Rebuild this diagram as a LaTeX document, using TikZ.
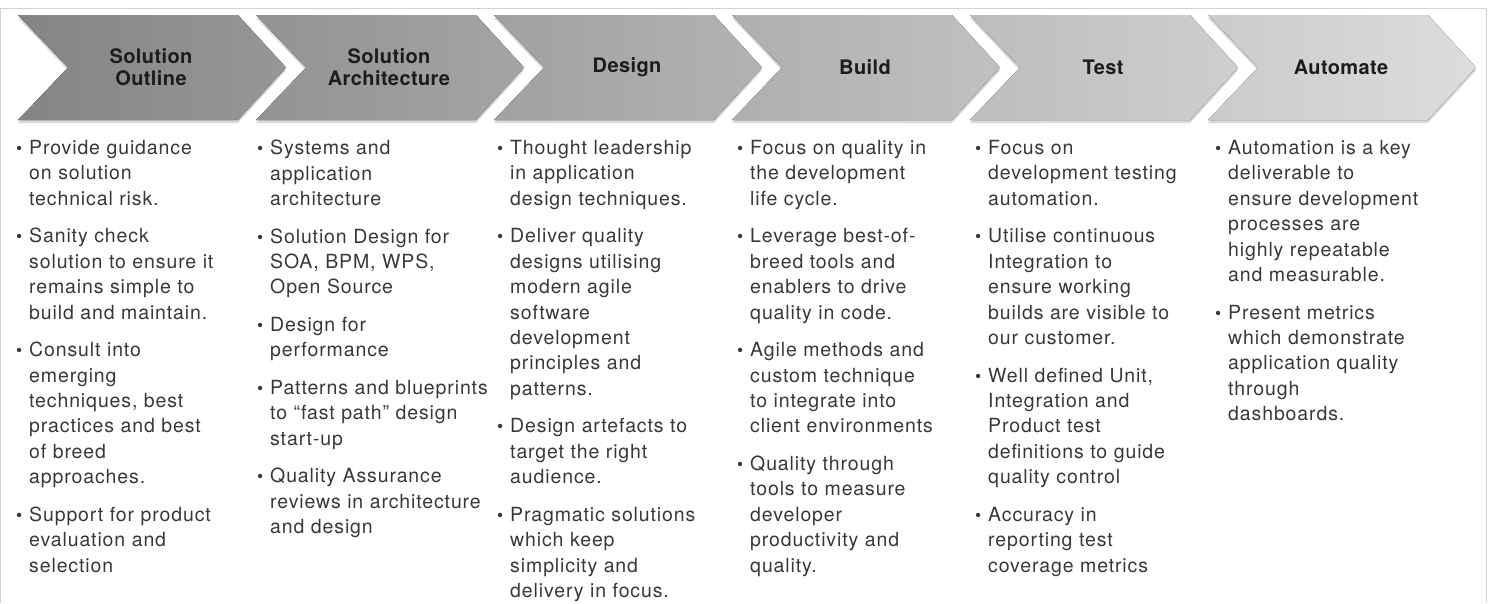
\documentclass[tikz,border=0pt]{standalone}
\usepackage{fontspec}
\setmainfont{TeX Gyre Heros}
\newfontfamily\bodyfont{TeX Gyre Heros}[LetterSpace=4.5]
\newfontfamily\headfont{TeX Gyre Heros}[LetterSpace=2]
\usetikzlibrary{shadows}
\definecolor{bodytext}{HTML}{383838}
\definecolor{headtext}{HTML}{1C1C1C}
\definecolor{framegrey}{HTML}{D2D2D2}
\newcommand{\pitem}[1]{\hangindent=13pt\hangafter=1\noindent\makebox[13pt][l]{\fontsize{17.5}{17.5}\selectfont\textbullet}#1\par}

\begin{document}
\begin{tikzpicture}[x=1pt,y=-1pt,
	chevron/.style={drop shadow={opacity=0.3,shadow xshift=0pt,shadow yshift=-3pt}},
	headline/.style={align=center,text=headtext,inner sep=0pt,font=\headfont\fontsize{20}{22}\selectfont\bfseries},
	column/.style={anchor=north west,text width=245pt,align=left,inner sep=0pt,text=bodytext,font=\bodyfont\fontsize{19.5}{25.4}\selectfont,execute at begin node={\parskip=12.2pt\relax}}]
	\useasboundingbox (0,0) rectangle (1491,603);
	\draw[framegrey] (0.5,603) |- (1486.5,8) -- (1486.5,603);
	\foreach \hd [count=\i from 0, evaluate=\i as \x using 18+238*\i, evaluate=\i as \lc using 48-5.5*\i, evaluate=\i as \rc using 41-5.5*\i] in {{Solution\\Outline},{Solution\\Architecture},Design,Build,Test,Automate}{
		\fill[chevron,left color=black!\lc,right color=black!\rc] (\x,15) -- ++(220,0) -- ++(48,52.5) -- ++(-48,52.5) -- ++(-220,0) -- ++(50,-52.5) -- cycle;
		\node[headline] (h\i) at (\x+133,67.5) {\hd};
	}
	\node[column] (c0) at (16,140) {\pitem{Provide guidance\newline on solution\newline technical risk.}
		\pitem{Sanity check\newline solution to ensure it\newline remains simple to\newline build and maintain.}
		\pitem{Consult into\newline emerging\newline techniques, best\newline practices and best\newline of breed\newline approaches.}
		\pitem{Support for product\newline evaluation and\newline selection}};
	\node[column] (c1) at (257,140) {\pitem{Systems and\newline application\newline architecture}
		\pitem{Solution Design for\newline SOA, BPM, WPS,\newline Open Source}
		\pitem{Design for\newline performance}
		\pitem{Patterns and blueprints\newline to “fast path” design\newline start-up}
		\pitem{Quality Assurance\newline reviews in architecture\newline and design}};
	\node[column] (c2) at (497,140) {\pitem{Thought leadership\newline in application\newline design techniques.}
		\pitem{Deliver quality\newline designs utilising\newline modern agile\newline software\newline development\newline principles and\newline patterns.}
		\pitem{Design artefacts to\newline target the right\newline audience.}
		\pitem{Pragmatic solutions\newline which keep\newline simplicity and\newline delivery in focus.}};
	\node[column] (c3) at (737,140) {\pitem{Focus on quality in\newline the development\newline life cycle.}
		\pitem{Leverage best-of-\newline breed tools and\newline enablers to drive\newline quality in code.}
		\pitem{Agile methods and\newline custom technique\newline to integrate into\newline client environments}
		\pitem{Quality through\newline tools to measure\newline developer\newline productivity and\newline quality.}};
	\node[column] (c4) at (975,140) {\pitem{Focus on\newline development testing\newline automation.}
		\pitem{Utilise continuous\newline Integration to\newline ensure working\newline builds are visible to\newline our customer.}
		\pitem{Well defined Unit,\newline Integration and\newline Product test\newline definitions to guide\newline quality control}
		\pitem{Accuracy in\newline reporting test\newline coverage metrics}};
	\node[column] (c5) at (1215,140) {\pitem{Automation is a key\newline deliverable to\newline ensure development\newline processes are\newline highly repeatable\newline and measurable.}
		\pitem{Present metrics\newline which demonstrate\newline application quality\newline through\newline dashboards.}};
\end{tikzpicture}
\end{document}
